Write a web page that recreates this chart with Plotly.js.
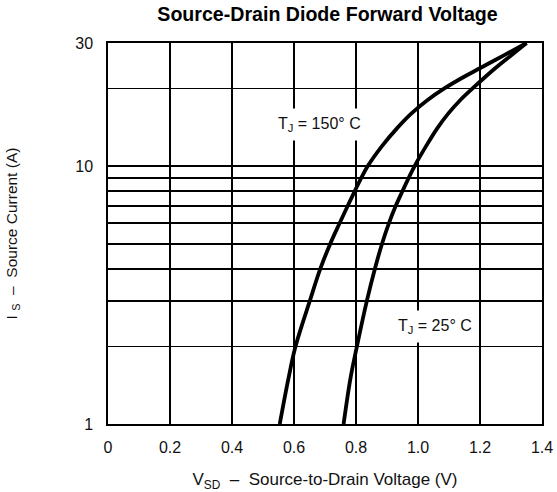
<!DOCTYPE html>
<html>
<head>
<meta charset="utf-8">
<script src="https://cdn.plot.ly/plotly-3.0.1.min.js"></script>
<style>html,body{margin:0;padding:0;background:#fff;}#chart{width:557px;height:492px;}</style>
</head>
<body>
<div id="chart"></div>
<script>
// Series: T_J = 150°C  (V_SD in volts, I_S in amps)
const v150 = [0.554, 0.582, 0.605, 0.651, 0.685, 0.717, 0.747, 0.773, 0.796, 0.817, 0.838, 0.885, 0.932, 0.979, 1.030, 1.085, 1.143, 1.201, 1.280, 1.35];
const i150 = [1, 1.5, 2, 3, 4, 5, 6, 7, 8, 9, 10, 12, 14, 16, 18, 20, 22, 24, 27, 30];
// Series: T_J = 25°C
const v25 = [0.760, 0.782, 0.803, 0.835, 0.861, 0.884, 0.906, 0.928, 0.950, 0.970, 0.989, 1.027, 1.062, 1.098, 1.136, 1.176, 1.214, 1.250, 1.303, 1.35];
const i25 = [1, 1.5, 2, 3, 4, 5, 6, 7, 8, 9, 10, 12, 14, 16, 18, 20, 22, 24, 27, 30];

const xTickVals = [0, 0.2, 0.4, 0.6, 0.8, 1.0, 1.2, 1.4];
const xTickText = ['0', '0.2', '0.4', '0.6', '0.8', '1.0', '1.2', '1.4'];
const yTickVals = [1, 2, 3, 4, 5, 6, 7, 8, 9, 10, 20, 30];
const yTickText = ['1', '', '', '', '', '', '', '', '', '10', '', '30'];

const labelText = ['T<sub>J</sub> = 150° C', 'T<sub>J</sub> = 25° C'];
const labelX = [0.683, 1.054];
const labelY = [14.5, 2.39];

const font = 'Liberation Sans, Arial, sans-serif';

const lineStyle = {color: '#000', width: 3.8, shape: 'spline', smoothing: 1};
const traces = [
  {x: v150, y: i150, mode: 'lines', line: lineStyle, hoverinfo: 'skip'},
  {x: v25, y: i25, mode: 'lines', line: lineStyle, hoverinfo: 'skip'}
];

const layout = {
  width: 557, height: 492,
  margin: {l: 108, r: 15, t: 43, b: 68},
  paper_bgcolor: '#fff', plot_bgcolor: '#fff',
  showlegend: false,
  font: {family: font, size: 16, color: '#111'},
  title: {text: '<b>Source-Drain Diode Forward Voltage</b>', x: 0.588, xanchor: 'center', y: 0.972, yanchor: 'middle',
          font: {family: font, size: 19.6, color: '#000'}},
  xaxis: {
    range: [0, 1.4], tickvals: xTickVals, ticktext: xTickText,
    showgrid: true, gridcolor: '#000', gridwidth: 1.7, zeroline: false,
    showline: true, linecolor: '#000', linewidth: 1.7, mirror: true,
    ticks: '', ticklabelstandoff: 8,
    tickfont: {family: font, size: 16, color: '#111'},
    title: {text: 'V<sub>SD</sub>  –  Source-to-Drain Voltage (V)', standoff: 20, font: {family: font, size: 17, color: '#111'}}
  },
  yaxis: {
    type: 'log', range: [0, Math.log10(30)], tickvals: yTickVals, ticktext: yTickText,
    showgrid: true, gridcolor: '#000', gridwidth: 1.7, zeroline: false,
    showline: true, linecolor: '#000', linewidth: 1.7, mirror: true,
    ticks: '', ticklabelstandoff: 10,
    tickfont: {family: font, size: 16, color: '#111'},
    title: {text: 'I <sub>S</sub>  –  Source Current (A)', standoff: 54, font: {family: font, size: 15.5, color: '#111'}}
  },
  annotations: labelText.map((t, k) => ({
    text: t, x: labelX[k], y: Math.log10(labelY[k]), xref: 'x', yref: 'y',
    showarrow: false, bgcolor: '#fff', borderpad: 6,
    font: {family: font, size: 16, color: '#111'}
  }))
};

Plotly.newPlot('chart', traces, layout, {staticPlot: true, displayModeBar: false});
</script>
</body>
</html>
